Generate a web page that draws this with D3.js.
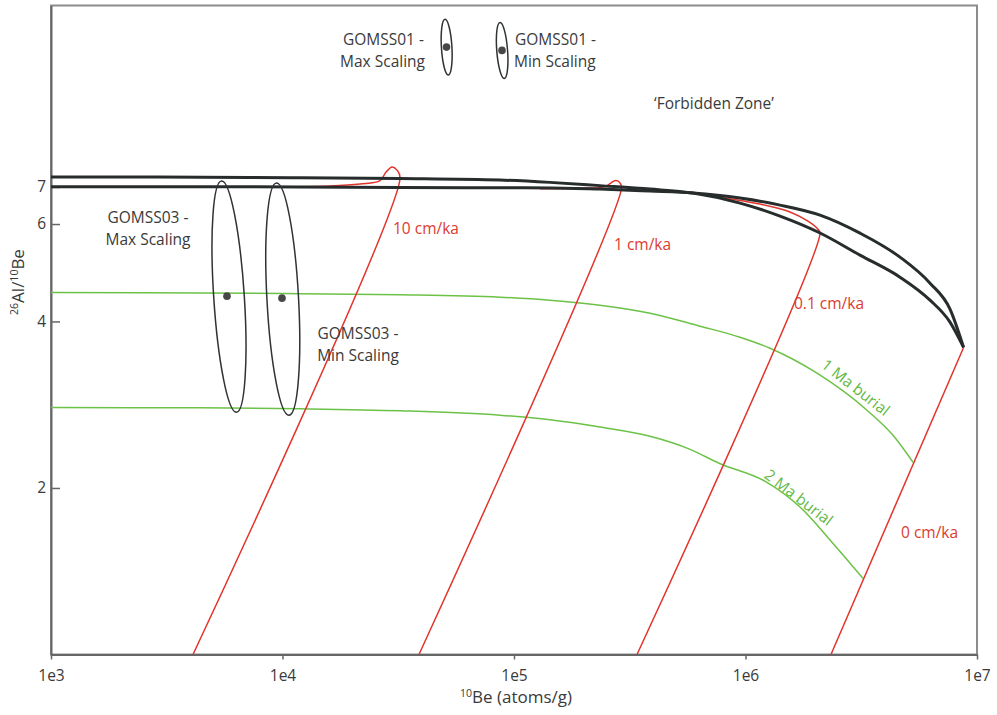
<!DOCTYPE html>
<html>
<head>
<meta charset="utf-8">
<script src="https://d3js.org/d3.v7.min.js"></script>
<style>
  body { margin: 0; background: #fff; }
  text { font-family: "Open Sans", "Noto Sans", sans-serif; fill: #3a3a3a; }
</style>
</head>
<body>
<div id="my_dataviz"></div>
<script>
// ---- data (10Be atoms/g, 26Al/10Be ratio) ----
var xTicks = [1e3, 1e4, 1e5, 1e6, 1e7];
var yTicks = [2, 4, 6, 7];

// the two black bounding curves (start at ~7.3 and ~7.0, meet at saturation)
var curveA = [[1000,7.30],[2680,7.30],[7240,7.28],[11900,7.275],[32180,7.25],[87000,7.205],[143000,7.136],
  [235200,7.04],[386900,6.94],[593300,6.825],[946900,6.546],[1410000,6.20],[2098000,5.78],
  [3123000,5.272],[4649000,4.81],[6266000,4.371],[7645000,3.988],[8750000,3.59]];
var curveB = [[1000,7.01],[4400,7.01],[11900,7.0],[32180,6.983],[87000,6.977],[143000,6.974],[235200,6.94],
  [386900,6.882],[593300,6.825],[946900,6.684],[1410000,6.492],[2098000,6.227],[3123000,5.777],
  [4649000,5.228],[6266000,4.691],[7645000,4.21],[8750000,3.59]];

// erosion-rate burial paths (red)
var erosionLabels = ["10 cm/ka", "1 cm/ka", "0.1 cm/ka", "0 cm/ka"];
var ero10 = [[8830,7.0],[16040,7.03],[21620,7.09],[26380,7.19],[28000,7.45],[29720,7.61],[31230,7.51],[32180,7.26],[4106,1.0]];
var ero1 = [[129500,6.95],[192800,6.97],[247300,7.01],[265000,7.14],[275900,7.19],[287000,7.12],[291300,6.97],[38870,1.0]];
var ero01 = [[776000,6.71],[1155000,6.52],[1557000,6.31],[1862000,6.07],[2057000,5.87],[2098000,5.78],[339900,1.0]];
var ero0 = [[8750000,3.59],[2340000,1.0]];

// burial isochrons (green)
var burialLabels = ["1 Ma burial", "2 Ma burial"];
var burial1 = [[1000,4.51],[4402,4.504],[11900,4.49],[32180,4.472],[87000,4.426],[143000,4.371],[235200,4.281],
  [386900,4.14],[636000,3.922],[946900,3.746],[1276000,3.578],[2037000,3.225],[3348000,2.764],[4337000,2.49],[5291000,2.226]];
var burial2 = [[1000,2.795],[4402,2.792],[11900,2.781],[32180,2.758],[87000,2.707],[143000,2.657],[235200,2.578],
  [386900,2.48],[575900,2.349],[768300,2.217],[1238000,2.048],[1720000,1.848],[2388000,1.588],[3218000,1.373]];

// samples with their error ellipses
var samples = ["GOMSS01 max", "GOMSS01 min", "GOMSS03 max", "GOMSS03 min"];
var sampleBe = [51100, 88760, 5757, 9950];
var sampleRatio = [12.53, 12.36, 4.444, 4.407];
var ellipseTop = [[50350,14.07],[87000,13.88],[5452,7.175],[9421,7.115]];
var ellipseBottom = [[52030,11.16],[90810,11.0],[6328,2.741],[10670,2.707]];
var ellipseBeRange = [[47900,53440],[83370,93560],[4862,6819],[8402,11780]];

// set the dimensions and margins of the graph
var margin = {top: 5.5, right: 20, bottom: 60.5, left: 51},
    width = 997 - margin.left - margin.right,
    height = 715 - margin.top - margin.bottom;

var svg = d3.select("#my_dataviz")
  .append("svg")
    .attr("width", 997)
    .attr("height", 715)
  .append("g")
    .attr("transform", "translate(" + margin.left + "," + margin.top + ")");

var x = d3.scaleLog().domain([1e3, 1e7]).range([0, width]);
var y = d3.scaleLog().domain([1, 14.9]).range([height, 0]);

// frame
svg.append("rect")
  .attr("width", width).attr("height", height)
  .attr("fill", "none").attr("stroke", "#8c8c8c").attr("stroke-width", 2);

// X axis
var gx = svg.append("g")
  .attr("transform", "translate(0," + height + ")")
  .call(d3.axisBottom(x).tickValues(xTicks).tickSizeInner(5).tickSizeOuter(0).tickPadding(10)
    .tickFormat(function(d) { return "1e" + Math.round(Math.log10(d)); }));

// Y axis, ticks pointing inward
var gy = svg.append("g")
  .call(d3.axisLeft(y).tickValues(yTicks).tickSizeInner(-9).tickSizeOuter(0).tickPadding(5)
    .tickFormat(d3.format("d")));

[gx, gy].forEach(function(g) {
  g.select(".domain").attr("stroke", "#666").attr("stroke-width", 2);
  g.selectAll(".tick line").attr("stroke", "#666").attr("stroke-width", 1.5);
  g.selectAll(".tick text").attr("fill", "#3a3a3a").style("font-size", "15.5px")
    .style("font-family", "'Open Sans', sans-serif");
});

// axis titles
var xt = svg.append("text")
  .attr("x", 572 - margin.left).attr("y", 703 - margin.top)
  .attr("text-anchor", "end").style("font-size", "17px");
xt.append("tspan").text("10").style("font-size", "10.5px").attr("dy", -6);
xt.append("tspan").text("Be (atoms/g)").attr("dy", 6);

var yt = svg.append("text")
  .attr("transform", "translate(" + (24 - margin.left) + "," + (282 - margin.top) + ") rotate(-90)")
  .attr("text-anchor", "middle").style("font-size", "17px");
yt.append("tspan").text("26").style("font-size", "10.5px").attr("dy", -6);
yt.append("tspan").text("Al/").attr("dy", 6);
yt.append("tspan").text("10").style("font-size", "10.5px").attr("dy", -6);
yt.append("tspan").text("Be").attr("dy", 6);

var line = d3.line()
  .x(function(d) { return x(d[0]); })
  .y(function(d) { return y(d[1]); });

// green burial isochrons
[burial1, burial2].forEach(function(s) {
  svg.append("path").datum(s)
    .attr("fill", "none").attr("stroke", "#6cc247").attr("stroke-width", 1.5)
    .attr("d", line.curve(d3.curveMonotoneX));
});

// red erosion paths
[ero10, ero1, ero01, ero0].forEach(function(s) {
  svg.append("path").datum(s)
    .attr("fill", "none").attr("stroke", "#e3342c").attr("stroke-width", 1.5)
    .attr("d", line.curve(d3.curveCatmullRom.alpha(0.5)));
});

// black bounding curves
[curveA, curveB].forEach(function(s) {
  svg.append("path").datum(s)
    .attr("fill", "none").attr("stroke", "#272c2c").attr("stroke-width", 3)
    .attr("d", line.curve(d3.curveMonotoneX));
});

// ellipses + sample points
samples.forEach(function(name, i) {
  var tx = x(ellipseTop[i][0]), ty = y(ellipseTop[i][1]);
  var bx = x(ellipseBottom[i][0]), by = y(ellipseBottom[i][1]);
  var a = Math.hypot(bx - tx, by - ty) / 2;
  var ang = Math.atan2(bx - tx, by - ty);
  var hw = (x(ellipseBeRange[i][1]) - x(ellipseBeRange[i][0])) / 2;
  var s = a * Math.sin(ang);
  var b = Math.sqrt(Math.max(hw * hw - s * s, 1)) / Math.cos(ang);
  svg.append("ellipse")
    .attr("rx", b).attr("ry", a)
    .attr("transform", "translate(" + (tx + bx) / 2 + "," + (ty + by) / 2 + ") rotate(" + (-ang * 180 / Math.PI) + ")")
    .attr("fill", "none").attr("stroke", "#2f3333").attr("stroke-width", 1.5);
  svg.append("circle")
    .attr("cx", x(sampleBe[i])).attr("cy", y(sampleRatio[i])).attr("r", 3.8)
    .attr("fill", "#474747");
});

// text annotations (page pixel positions)
function label(txt, px, py, anchor, color, rot) {
  var t = svg.append("text")
    .attr("text-anchor", anchor)
    .style("font-size", "15.5px")
    .text(txt);
  if (rot) {
    t.attr("dominant-baseline", "central")
     .attr("transform", "translate(" + (px - margin.left) + "," + (py - margin.top) + ") rotate(" + rot + ")");
  } else {
    t.attr("x", px - margin.left).attr("y", py - margin.top);
  }
  if (color) t.style("fill", color);
  return t;
}

label("GOMSS01 -", 424, 45, "end");
label("Max Scaling", 425, 67, "end");
label("GOMSS01 -", 515, 45, "start");
label("Min Scaling", 514, 67, "start");
label("\u2018Forbidden Zone\u2019", 714, 109, "middle");
label("GOMSS03 -", 148, 223, "middle");
label("Max Scaling", 148, 245, "middle");
label("GOMSS03 -", 358, 339, "middle");
label("Min Scaling", 358, 361, "middle");

var red = "#dc3a30", green = "#63b944";
label(erosionLabels[0], 393, 234, "start", red);
label(erosionLabels[1], 614, 250, "start", red);
label(erosionLabels[2], 794, 309, "start", red);
label(erosionLabels[3], 901, 538, "start", red);
label(burialLabels[0], 856, 387, "middle", green, 38);
label(burialLabels[1], 799, 497, "middle", green, 37.5);
</script>
</body>
</html>
